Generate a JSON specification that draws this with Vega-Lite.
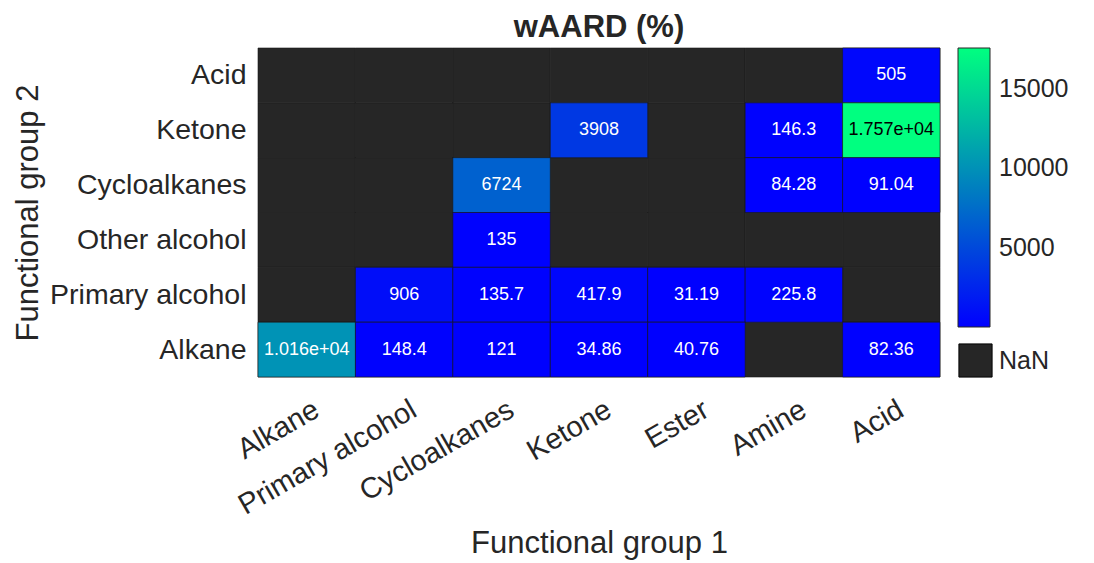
{
  "$schema": "https://vega.github.io/schema/vega-lite/v6.json",
  "width": 682,
  "height": 329,
  "autosize": "none",
  "padding": {"left": 258, "top": 48, "right": 154, "bottom": 186},
  "background": "white",
  "config": {
    "font": "Liberation Sans",
    "view": {"stroke": null},
    "axis": {"labelColor": "#262626", "titleColor": "#262626", "domain": false, "ticks": false, "grid": false, "labelLimit": 0}
  },
  "title": {"text": "wAARD (%)", "fontSize": 31, "fontWeight": "bold", "color": "#262626", "anchor": "middle", "offset": 4, "font": "Liberation Sans"},
  "data": {
    "values": [
      {"g1": "Alkane", "g2": "Acid", "v": null, "label": ""},
      {"g1": "Primary alcohol", "g2": "Acid", "v": null, "label": ""},
      {"g1": "Cycloalkanes", "g2": "Acid", "v": null, "label": ""},
      {"g1": "Ketone", "g2": "Acid", "v": null, "label": ""},
      {"g1": "Ester", "g2": "Acid", "v": null, "label": ""},
      {"g1": "Amine", "g2": "Acid", "v": null, "label": ""},
      {"g1": "Acid", "g2": "Acid", "v": 505, "label": "505"},
      {"g1": "Alkane", "g2": "Ketone", "v": null, "label": ""},
      {"g1": "Primary alcohol", "g2": "Ketone", "v": null, "label": ""},
      {"g1": "Cycloalkanes", "g2": "Ketone", "v": null, "label": ""},
      {"g1": "Ketone", "g2": "Ketone", "v": 3908, "label": "3908"},
      {"g1": "Ester", "g2": "Ketone", "v": null, "label": ""},
      {"g1": "Amine", "g2": "Ketone", "v": 146.3, "label": "146.3"},
      {"g1": "Acid", "g2": "Ketone", "v": 17570, "label": "1.757e+04"},
      {"g1": "Alkane", "g2": "Cycloalkanes", "v": null, "label": ""},
      {"g1": "Primary alcohol", "g2": "Cycloalkanes", "v": null, "label": ""},
      {"g1": "Cycloalkanes", "g2": "Cycloalkanes", "v": 6724, "label": "6724"},
      {"g1": "Ketone", "g2": "Cycloalkanes", "v": null, "label": ""},
      {"g1": "Ester", "g2": "Cycloalkanes", "v": null, "label": ""},
      {"g1": "Amine", "g2": "Cycloalkanes", "v": 84.28, "label": "84.28"},
      {"g1": "Acid", "g2": "Cycloalkanes", "v": 91.04, "label": "91.04"},
      {"g1": "Alkane", "g2": "Other alcohol", "v": null, "label": ""},
      {"g1": "Primary alcohol", "g2": "Other alcohol", "v": null, "label": ""},
      {"g1": "Cycloalkanes", "g2": "Other alcohol", "v": 135, "label": "135"},
      {"g1": "Ketone", "g2": "Other alcohol", "v": null, "label": ""},
      {"g1": "Ester", "g2": "Other alcohol", "v": null, "label": ""},
      {"g1": "Amine", "g2": "Other alcohol", "v": null, "label": ""},
      {"g1": "Acid", "g2": "Other alcohol", "v": null, "label": ""},
      {"g1": "Alkane", "g2": "Primary alcohol", "v": null, "label": ""},
      {"g1": "Primary alcohol", "g2": "Primary alcohol", "v": 906, "label": "906"},
      {"g1": "Cycloalkanes", "g2": "Primary alcohol", "v": 135.7, "label": "135.7"},
      {"g1": "Ketone", "g2": "Primary alcohol", "v": 417.9, "label": "417.9"},
      {"g1": "Ester", "g2": "Primary alcohol", "v": 31.19, "label": "31.19"},
      {"g1": "Amine", "g2": "Primary alcohol", "v": 225.8, "label": "225.8"},
      {"g1": "Acid", "g2": "Primary alcohol", "v": null, "label": ""},
      {"g1": "Alkane", "g2": "Alkane", "v": 10160, "label": "1.016e+04"},
      {"g1": "Primary alcohol", "g2": "Alkane", "v": 148.4, "label": "148.4"},
      {"g1": "Cycloalkanes", "g2": "Alkane", "v": 121, "label": "121"},
      {"g1": "Ketone", "g2": "Alkane", "v": 34.86, "label": "34.86"},
      {"g1": "Ester", "g2": "Alkane", "v": 40.76, "label": "40.76"},
      {"g1": "Amine", "g2": "Alkane", "v": null, "label": ""},
      {"g1": "Acid", "g2": "Alkane", "v": 82.36, "label": "82.36"}
    ]
  },
  "encoding": {
    "x": {
      "field": "g1", "type": "nominal",
      "sort": ["Alkane", "Primary alcohol", "Cycloalkanes", "Ketone", "Ester", "Amine", "Acid"],
      "scale": {"paddingInner": 0, "paddingOuter": 0},
      "axis": {"title": "Functional group 1", "titleFontSize": 31, "titleFontWeight": "normal", "titlePadding": 9, "labelFontSize": 29, "labelAngle": -30, "labelAlign": "right", "labelBaseline": "middle", "labelPadding": 30, "labelOffset": 10}
    },
    "y": {
      "field": "g2", "type": "nominal",
      "sort": ["Acid", "Ketone", "Cycloalkanes", "Other alcohol", "Primary alcohol", "Alkane"],
      "scale": {"paddingInner": 0, "paddingOuter": 0},
      "axis": {"title": "Functional group 2", "titleFontSize": 31, "titleFontWeight": "normal", "titlePadding": 14, "labelFontSize": 28.5, "labelPadding": 12}
    }
  },
  "layer": [
    {
      "mark": {"type": "rect", "stroke": "#1a1a1a", "strokeWidth": 0.6},
      "encoding": {
        "fill": {
          "datum": "NaN",
          "scale": {"domain": ["NaN"], "range": ["#262626"]},
          "legend": {"orient": "none", "legendX": 700, "legendY": 295, "title": null, "symbolType": "square", "symbolSize": 1100, "symbolStrokeColor": "#000000", "symbolStrokeWidth": 1, "labelFontSize": 25, "labelColor": "#262626", "labelOffset": 6, "padding": 0}
        }
      }
    },
    {
      "transform": [{"filter": "isValid(datum.v)"}],
      "mark": {"type": "rect", "stroke": "#1a1a1a", "strokeWidth": 0.6},
      "encoding": {
        "color": {
          "field": "v", "type": "quantitative",
          "scale": {"domain": [31.19, 17570], "range": ["#0000ff", "#00ff80"], "interpolate": "rgb"},
          "legend": {"orient": "none", "legendX": 700, "legendY": 0, "title": null, "direction": "vertical", "gradientLength": 279, "gradientThickness": 32, "gradientStrokeColor": "#262626", "gradientStrokeWidth": 1, "values": [5000, 10000, 15000], "format": "d", "labelFontSize": 25, "labelColor": "#262626", "labelOffset": 9, "labelOverlap": false, "padding": 0}
        }
      }
    },
    {
      "transform": [{"filter": "isValid(datum.v)"}],
      "mark": {"type": "text", "fontSize": 18, "font": "Liberation Sans"},
      "encoding": {
        "text": {"field": "label"},
        "color": {"condition": {"test": "datum.v > 15000", "value": "#000000"}, "value": "#ffffff"}
      }
    }
  ]
}
